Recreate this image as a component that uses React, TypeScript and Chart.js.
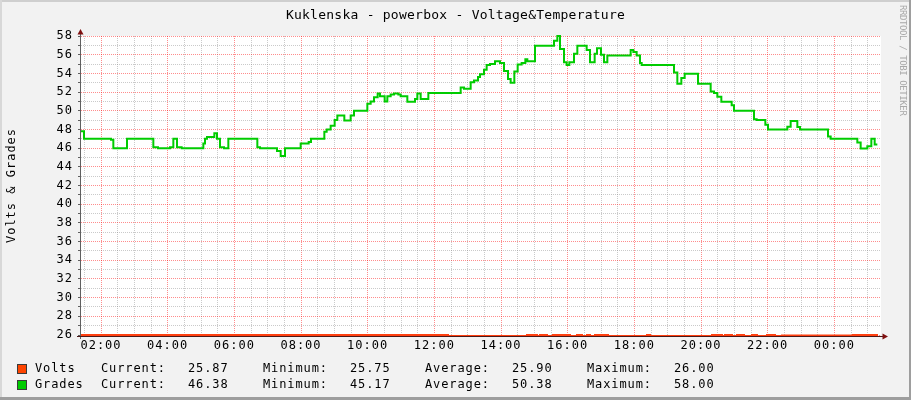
import React, { useEffect, useRef } from "react";
import { Chart, registerables } from "chart.js";

Chart.register(...registerables);

// ---- data (hours of day since midnight of first day; 24+ = next day) ----
const gradesHours = [
  1.40, 1.49, 2.30, 2.37, 2.78, 3.57, 3.71, 4.07, 4.17, 4.28, 4.42, 5.07, 5.12, 5.18, 5.40, 5.48,
  5.57, 5.69, 5.82, 6.69, 6.77, 7.28, 7.39, 7.52, 7.99, 8.23, 8.30, 8.70, 8.77, 8.89, 9.01, 9.09,
  9.30, 9.49, 9.59, 9.99, 10.09, 10.19, 10.30, 10.37, 10.51, 10.59, 10.69, 10.79, 10.92, 10.99,
  11.19, 11.42, 11.49, 11.59, 11.82, 12.79, 12.89, 13.09, 13.19, 13.31, 13.37, 13.49, 13.57, 13.67,
  13.82, 13.97, 14.09, 14.21, 14.29, 14.40, 14.50, 14.62, 14.73, 14.79, 15.02, 15.59, 15.69, 15.77,
  15.89, 15.97, 16.05, 16.19, 16.29, 16.57, 16.67, 16.81, 16.88, 17.00, 17.09, 17.19, 17.89, 17.97,
  18.07, 18.17, 18.22, 19.19, 19.29, 19.41, 19.51, 19.91, 20.29, 20.39, 20.49, 20.61, 20.92, 20.99,
  21.59, 21.67, 21.93, 22.01, 22.59, 22.69, 22.89, 22.97, 23.81, 23.89, 24.69, 24.79, 24.99, 25.11,
  25.21, 25.29,
];
const gradesValues = [
  47.8, 47.0, 46.9, 46.0, 47.0, 46.1, 46.0, 46.1, 47.0, 46.1, 46.0, 46.5, 47.0, 47.2, 47.6, 47.0,
  46.1, 46.0, 47.0, 46.1, 46.0, 45.7, 45.17, 46.0, 46.5, 46.65, 47.0, 47.75, 48.0, 48.4, 49.0, 49.5,
  48.95, 49.5, 50.0, 50.75, 51.0, 51.45, 51.85, 51.55, 51.0, 51.55, 51.75, 51.85, 51.75, 51.55,
  50.95, 51.25, 51.85, 51.25, 51.9, 52.5, 52.35, 53.05, 53.25, 53.6, 53.9, 54.4, 54.9, 55.0,
  55.3, 55.1, 54.25, 53.4, 53.0, 54.2, 54.95, 55.1, 55.5, 55.3, 56.95, 57.5, 58.0, 56.6,
  55.2, 54.9, 55.2, 56.1, 56.95, 56.5, 55.2, 56.1, 56.7, 56.0, 55.2, 55.9, 56.5, 56.3,
  55.9, 55.1, 54.9, 54.1, 52.9, 53.5, 53.95, 52.9, 52.05, 51.9, 51.5, 50.95, 50.6, 50.0,
  49.1, 49.0, 48.5, 48.0, 48.3, 48.9, 48.25, 48.0, 47.25, 47.0, 46.6, 45.95, 46.2, 47.0,
  46.38, 46.38,
];
const voltsHours = [
  1.40, 11.72, 11.78, 12.41, 14.78, 15.08, 15.17, 15.38, 15.56, 16.07, 16.28, 16.43, 16.58, 16.67,
  16.82, 17.21, 18.38, 18.47, 20.33, 20.63, 20.72, 20.93, 21.08, 21.29, 21.53, 21.68, 21.98, 22.22,
  22.43, 24.56, 25.28,
];
const voltsValues = [
  26.0, 25.9, 26.0, 25.9, 26.0, 25.9, 26.0, 25.9, 26.0, 25.9, 26.0, 25.9, 26.0, 25.9,
  26.0, 25.9, 26.0, 25.9, 26.0, 25.9, 26.0, 25.9, 26.0, 25.9, 26.0, 25.9, 26.0, 25.9,
  25.95, 26.0, 25.87,
];

const xMajorHours = [2, 4, 6, 8, 10, 12, 14, 16, 18, 20, 22, 24];
const xMajorLabels = ["02:00", "04:00", "06:00", "08:00", "10:00", "12:00", "14:00", "16:00", "18:00", "20:00", "22:00", "00:00"];
const X_MIN = 1.4;
const X_MAX = 25.4;
const Y_MIN = 26;
const Y_MAX = 58;

const legendNames = ["Volts", "Grades"];
const legendColors = ["#ff4500", "#00cc00"];
const legendCurrent = ["25.87", "46.38"];
const legendMinimum = ["25.75", "45.17"];
const legendAverage = ["25.90", "50.38"];
const legendMaximum = ["26.00", "58.00"];

const TITLE = "Kuklenska - powerbox - Voltage&Temperature";
const Y_TITLE = "Volts & Grades";

const MONO = "'DejaVu Sans Mono', monospace";
const GRID_MINOR = "rgba(128,128,128,0.42)";
const GRID_MAJOR = "rgba(255,0,0,0.45)";

const isMajorX = (v: number) => xMajorHours.indexOf(v) >= 0;

const textSpacing = {
  id: "textSpacing",
  beforeDraw(chart: any) {
    (chart.ctx as any).letterSpacing = "1px";
  },
};

const canvasBg = {
  id: "canvasBg",
  beforeDraw(chart: any) {
    const { ctx, chartArea } = chart;
    ctx.save();
    ctx.fillStyle = "#ffffff";
    ctx.fillRect(chartArea.left, chartArea.top, chartArea.right - chartArea.left, chartArea.bottom - chartArea.top);
    ctx.restore();
  },
};

const axesArrows = {
  id: "axesArrows",
  afterDatasetsDraw(chart: any) {
    const { ctx, chartArea } = chart;
    const { left, right, top, bottom } = chartArea;
    const ax = left - 0.5;
    const ay = bottom + 1.5;
    ctx.save();
    (ctx as any).letterSpacing = "0px";
    ctx.setLineDash([]);
    ctx.lineWidth = 1;
    ctx.strokeStyle = "#606060";
    ctx.beginPath();
    ctx.moveTo(ax, bottom + 4);
    ctx.lineTo(ax, top - 3);
    ctx.stroke();
    ctx.strokeStyle = "#4a1818";
    ctx.beginPath();
    ctx.moveTo(left - 4, ay);
    ctx.lineTo(right + 2, ay);
    ctx.stroke();
    ctx.fillStyle = "#7f1010";
    ctx.beginPath();
    ctx.moveTo(ax, top - 7);
    ctx.lineTo(ax - 3, top - 1.5);
    ctx.lineTo(ax + 3, top - 1.5);
    ctx.closePath();
    ctx.fill();
    ctx.beginPath();
    ctx.moveTo(right + 7, ay);
    ctx.lineTo(right + 1.5, ay - 3);
    ctx.lineTo(right + 1.5, ay + 3);
    ctx.closePath();
    ctx.fill();
    ctx.restore();
  },
};

function ChartCanvas() {
  const ref = useRef<HTMLCanvasElement | null>(null);
  useEffect(() => {
    if (!ref.current) return;
    const xTicks: number[] = [];
    for (let h = 1.5; h <= 25.0001; h += 0.5) xTicks.push(h);
    const yTicks: number[] = [];
    for (let v = Y_MIN; v <= Y_MAX; v += 1) yTicks.push(v);

    const chart = new Chart(ref.current, {
      type: "line",
      data: {
        datasets: [
          {
            label: "Volts",
            data: voltsHours.map((h, i) => ({ x: h, y: voltsValues[i] })),
            borderColor: "#ff4010",
            backgroundColor: "#ff4010",
            borderWidth: 2,
            pointRadius: 0,
            stepped: true,
            fill: false,
            clip: { left: 0, top: 2, right: 0, bottom: 1 } as any,
          },
          {
            label: "Grades",
            data: gradesHours.map((h, i) => ({ x: h, y: gradesValues[i] })),
            borderColor: "#00cc00",
            backgroundColor: "#00cc00",
            borderWidth: 2,
            pointRadius: 0,
            stepped: true,
            fill: false,
            clip: { left: 0, top: 2, right: 0, bottom: 1 } as any,
          },
        ],
      },
      options: {
        responsive: false,
        animation: false,
        layout: { padding: { left: 0, right: 30, top: 36, bottom: 0 } },
        plugins: {
          legend: { display: false },
          tooltip: { enabled: false },
          title: { display: false },
        },
        scales: {
          x: {
            type: "linear",
            min: X_MIN,
            max: X_MAX,
            afterBuildTicks: (scale: any) => {
              scale.ticks = xTicks.map((v) => ({ value: v }));
            },
            afterFit: (scale: any) => {
              scale.height = 65;
            },
            ticks: {
              autoSkip: false,
              maxRotation: 0,
              minRotation: 0,
              padding: 4,
              color: "#000000",
              font: { family: MONO, size: 12 },
              callback: (v: any) => {
                const i = xMajorHours.indexOf(Number(v));
                return i >= 0 ? xMajorLabels[i] : "";
              },
            },
            grid: {
              drawTicks: false,
              lineWidth: 1,
              color: (c: any) => (c.tick && isMajorX(Number(c.tick.value)) ? GRID_MAJOR : GRID_MINOR),
            },
            border: { display: false, dash: [1, 1] },
          },
          y: {
            type: "linear",
            min: Y_MIN,
            max: Y_MAX,
            afterBuildTicks: (scale: any) => {
              scale.ticks = yTicks.map((v) => ({ value: v }));
            },
            afterFit: (scale: any) => {
              scale.width = 81;
            },
            ticks: {
              autoSkip: false,
              padding: 5,
              color: "#000000",
              font: { family: MONO, size: 12 },
              callback: (v: any) => (Number(v) % 2 === 0 ? String(v) : ""),
            },
            grid: {
              drawTicks: true,
              tickLength: 3,
              tickColor: "#606060",
              lineWidth: 1,
              color: (c: any) => (c.tick && Number(c.tick.value) % 2 === 0 ? GRID_MAJOR : GRID_MINOR),
            },
            border: { display: false, dash: [1, 1] },
            title: {
              display: true,
              text: Y_TITLE,
              color: "#000000",
              font: { family: MONO, size: 12 },
              padding: { top: 5, bottom: 4 },
            },
          },
        },
      },
      plugins: [textSpacing, canvasBg, axesArrows],
    } as any);
    return () => chart.destroy();
  }, []);
  return (
    <canvas
      ref={ref}
      width={911}
      height={400}
      style={{ position: "absolute", left: 0, top: 0, width: 911, height: 400 }}
    />
  );
}

const legendCols = [
  { x: 101, get: (_i: number) => "Current:" },
  { x: 188, get: (i: number) => legendCurrent[i] },
  { x: 263, get: (_i: number) => "Minimum:" },
  { x: 350, get: (i: number) => legendMinimum[i] },
  { x: 425, get: (_i: number) => "Average:" },
  { x: 512, get: (i: number) => legendAverage[i] },
  { x: 587, get: (_i: number) => "Maximum:" },
  { x: 674, get: (i: number) => legendMaximum[i] },
];

export default function App() {
  const textStyle: React.CSSProperties = {
    position: "absolute",
    fontFamily: MONO,
    fontSize: 12,
    lineHeight: "14px",
    letterSpacing: "0.9px",
    color: "#000",
    whiteSpace: "pre",
  };
  return (
    <div
      style={{
        position: "fixed",
        left: 0,
        top: 0,
        width: 911,
        height: 400,
        background: "#f2f2f2",
        overflow: "hidden",
      }}
    >
      <div style={{ position: "absolute", left: 0, top: 0, width: 911, height: 2, background: "#cfcfcf" }} />
      <div style={{ position: "absolute", left: 0, top: 0, width: 2, height: 400, background: "#d8d8d8" }} />
      <div style={{ position: "absolute", right: 0, top: 0, width: 2, height: 400, background: "#9e9e9e" }} />
      <div style={{ position: "absolute", left: 0, bottom: 0, width: 911, height: 3, background: "#9e9e9e" }} />
      <ChartCanvas />
      <div
        style={{
          position: "absolute",
          left: 0,
          top: 7,
          width: 911,
          textAlign: "center",
          fontFamily: MONO,
          fontSize: 13,
          lineHeight: "15px",
          letterSpacing: "0.25px",
          color: "#000",
          whiteSpace: "pre",
        }}
      >
        {TITLE}
      </div>
      <div
        style={{
          position: "absolute",
          left: 898,
          top: 5,
          writingMode: "vertical-rl",
          fontFamily: MONO,
          fontSize: 9,
          lineHeight: "10px",
          letterSpacing: "-0.4px",
          color: "#a8a8a8",
          whiteSpace: "pre",
        }}
      >
        RRDTOOL / TOBI OETIKER
      </div>
      {legendNames.map((name, i) => {
        const top = 361 + i * 16;
        return (
          <React.Fragment key={name}>
            <div
              style={{
                position: "absolute",
                left: 17,
                top: top + 3,
                width: 8,
                height: 8,
                background: legendColors[i],
                border: "1px solid #3a3a3a",
              }}
            />
            <span style={{ ...textStyle, left: 35, top }}>{name}</span>
            {legendCols.map((c, j) => (
              <span key={j} style={{ ...textStyle, left: c.x, top }}>
                {c.get(i)}
              </span>
            ))}
          </React.Fragment>
        );
      })}
    </div>
  );
}
